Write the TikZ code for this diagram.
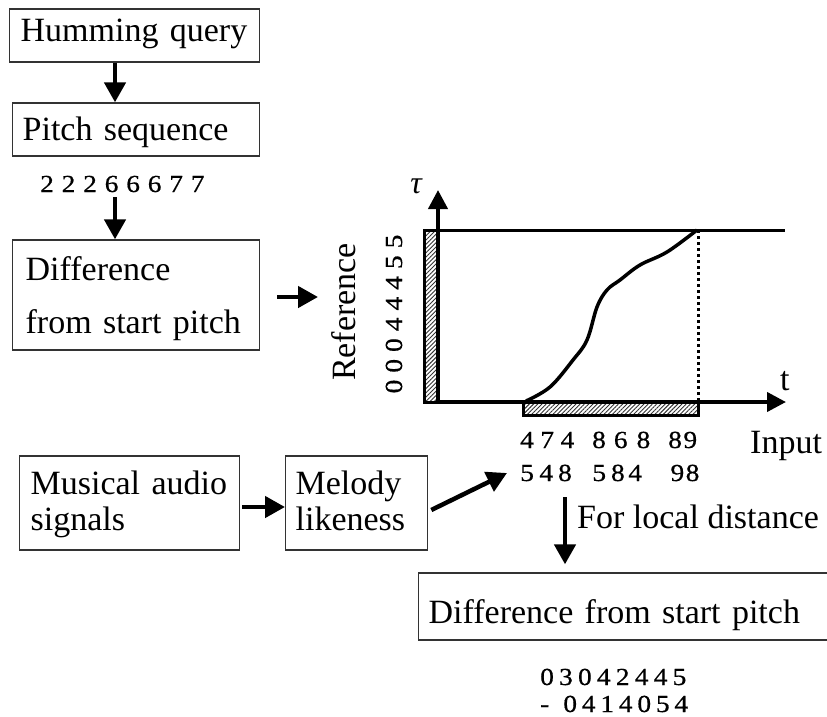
\documentclass[tikz,border=0pt]{standalone}
\usepackage{fontspec}
\setmainfont{Liberation Serif}
\newfontfamily\digf[FakeStretch=1.12,FakeBold=0.6]{Liberation Serif}
\usetikzlibrary{arrows.meta,patterns.meta}

\newcommand\bigtxt{\fontsize{34}{36}\selectfont}
\newcommand\digtxt{\digf\fontsize{24.5}{27}\selectfont}
\newcommand\gap[1]{\hspace*{#1}}

\begin{document}
\begin{tikzpicture}[x=1pt,y=-1pt,
  box/.style={draw=black!80, line width=1.3pt, anchor=base west, align=left,
              inner ysep=0pt, font=\bigtxt},
  arr/.style={line width=4.5pt, -{Triangle[length=20pt,width=21pt]}},
  axis/.style={line width=4pt, -{Triangle[length=19pt,width=19pt]}},
  txt/.style={font=\bigtxt, inner sep=0pt},
  seq/.style={font=\digtxt, inner sep=0pt, anchor=base west},
  hatch/.style={draw=black, line width=3pt,
                pattern={Lines[angle=45,distance=3pt,line width=0.9pt]},
                pattern color=black!80}
]
\useasboundingbox (0,0) rectangle (827,717);

% query side
\node[box, inner xsep=11pt, text width=228pt, text height=33pt, text depth=20pt]
  (hq) at (9,42) {Humming query};
\node[box, inner xsep=10pt, text width=227pt, text height=37pt, text depth=16pt]
  (ps) at (12,140) {Pitch sequence};
\node[seq] (pseq) at (40,192) {\spaceskip=7.8pt\relax 2 2 2 6 6 6 7 7};
\node[box, inner xsep=13pt, text width=221pt, text height=40pt, text depth=70pt]
  (dsp) at (12,280) {Difference\\[17pt]from start pitch};

% audio side
\node[box, inner xsep=11pt, text width=198pt, text height=38pt, text depth=56pt]
  (mas) at (19,494) {\mbox{Musical audio}\\signals};
\node[box, inner xsep=10pt, text width=122pt, text height=38pt, text depth=56pt]
  (ml) at (285,494) {Melody\\likeness};
\node[box, inner xsep=10pt, text width=392pt, text height=50pt, text depth=17pt]
  (dsp2) at (418,623) {Difference from start pitch};

% matching plane
\draw[hatch] (424,230) rectangle (438,402);
\draw[hatch] (523,402) rectangle (698,415);
\draw[line width=3pt] (438,230) -- (785,230);
\draw[line width=3pt, dash pattern=on 3pt off 3pt] (698,230) -- (698,402);
\draw[line width=3.5pt, line join=round]
  plot[smooth, tension=0.6] coordinates {(526,401) (550,387) (573,360) (587,340)
    (597,307) (607,290) (620,280) (640,265) (667,252) (697,230)};
\draw[axis] (438,402) -- (438,190);
\draw[axis] (438,402) -- (786,402);

\node[font=\fontsize{32}{34}\selectfont\itshape, inner sep=0pt] (tau) at (416,186) {τ};
\node[txt, anchor=base west] (tl) at (780,390) {t};
\node[txt, anchor=base, rotate=90] (ref) at (355,312) {Reference};
\node[seq, anchor=base, rotate=90] (refseq) at (402,314)
  {\spaceskip=7pt\relax 0 0 0 4 4 4 5 5};
\node[seq] (in1) at (520,448)
  {4\gap{6.5pt}7\gap{6.5pt}4\gap{17.8pt}8\gap{8pt}6\gap{9pt}8\gap{17.9pt}8\gap{1.5pt}9};
\node[seq] (in2) at (520,481)
  {5\gap{5.5pt}4\gap{5pt}8\gap{20.5pt}5\gap{5pt}8\gap{3.5pt}4\gap{28.5pt}9\gap{1.5pt}8};
\node[txt, anchor=base west] (inp) at (750,453) {Input};
\node[txt, anchor=base west] (fld) at (577,528) {For local distance};
\node[seq] (d1) at (540,685) {\spaceskip=5.2pt\relax 0 3 0 4 2 4 4 5};
\node[seq] (d2) at (540,712) {-\gap{14pt}\spaceskip=4.8pt\relax 0 4 1 4 0 5 4};

% connectors
\coordinate (xa) at (115,0);
\coordinate (gin) at (318,297);
\coordinate (ya) at (0,507);
\coordinate (inp2) at (507,473);
\coordinate (xb) at (565,0);
\draw[arr] (hq.south -| xa) -- (ps.north -| xa);
\draw[arr] ([yshift=-5pt]pseq.base -| xa) -- (dsp.north -| xa);
\draw[arr] ([xshift=17pt]dsp.east |- gin) -- (gin);
\draw[arr] ([xshift=2pt]mas.east |- ya) -- (ml.west |- ya);
\draw[arr] ([shift={(3pt,-7pt)}]ml.east) -- (inp2);
\draw[arr] ([yshift=-16pt]in2.base -| xb) -- ([yshift=8pt]dsp2.north -| xb);
\end{tikzpicture}
\end{document}
